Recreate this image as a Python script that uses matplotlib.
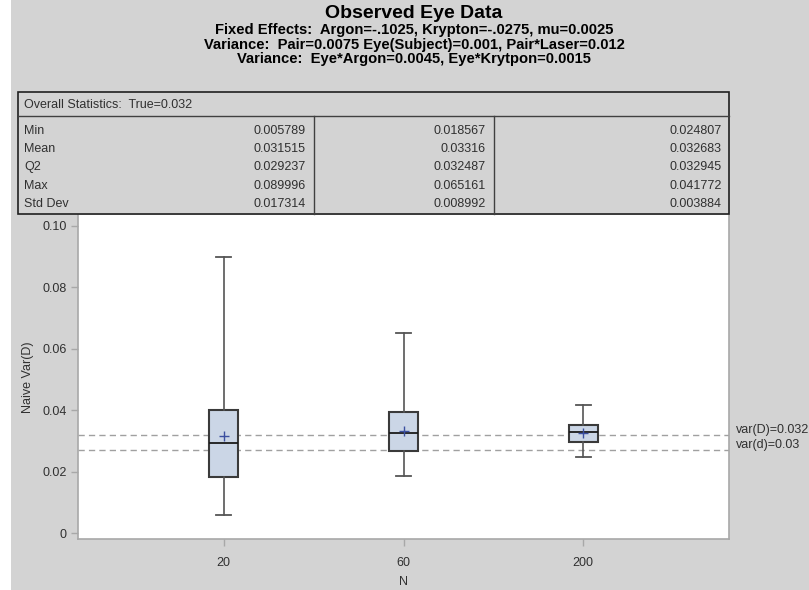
import matplotlib
matplotlib.use("Agg")
import matplotlib.pyplot as plt
from matplotlib.patches import Rectangle
from matplotlib.lines import Line2D
import matplotlib.transforms as mtransforms

plt.rcParams['font.family'] = ['Liberation Sans', 'DejaVu Sans']

# ---- data ----
categories = ['20', '60', '200']
mins = [0.005789, 0.018567, 0.024807]
q1s = [0.0182, 0.0268, 0.0297]
medians = [0.029237, 0.032487, 0.032945]
q3s = [0.0400, 0.0393, 0.0352]
maxs = [0.089996, 0.065161, 0.041772]
means = [0.031515, 0.03316, 0.032683]
stds = [0.017314, 0.008992, 0.003884]
table_q2 = [0.029237, 0.032487, 0.032945]
ref_values = [0.032, 0.027]
ref_labels = ['var(D)=0.032', 'var(d)=0.03']
ytick_vals = [0, 0.02, 0.04, 0.06, 0.08, 0.10]
ytick_labels = ['0', '0.02', '0.04', '0.06', '0.08', '0.10']
title_lines = ['Observed Eye Data',
               'Fixed Effects:  Argon=-.1025, Krypton=-.0275, mu=0.0025',
               'Variance:  Pair=0.0075 Eye(Subject)=0.001, Pair*Laser=0.012',
               'Variance:  Eye*Argon=0.0045, Eye*Krytpon=0.0015']
table_header = 'Overall Statistics:  True=0.032'
row_names = ['Min', 'Mean', 'Q2', 'Max', 'Std Dev']

W, H = 809, 590
DPI = 100
fig = plt.figure(figsize=(W / DPI, H / DPI), dpi=DPI, facecolor='white')

def fx(x):
    return x / W

def fy(y):
    return 1 - y / H

BG = '#d3d3d3'
TXT = '#303030'
FS = 9.0
# gray panel
fig.patches.append(Rectangle((fx(11), 0), 1 - fx(11), 1, transform=fig.transFigure,
                             facecolor=BG, edgecolor='none', zorder=-10))

# ---- titles ----
fig.text(fx(414), fy(14), title_lines[0], ha='center', va='center',
         fontsize=14, fontweight='bold', color='black')
for i, t in enumerate(title_lines[1:]):
    fig.text(fx(414), fy(30 + 14.5 * i), t, ha='center', va='center',
             fontsize=10.6, fontweight='bold', color='black')

# ---- axes ----
ax = fig.add_axes([fx(78), fy(539), fx(729 - 78), fy(215) - fy(539)])
ax.set_facecolor('white')
ppu = (533 - 226) / 0.10
ax.set_ylim(-(539 - 533) / ppu, 0.10 + (226 - 215) / ppu)
ax.set_xlim(-146 / 180, 2 + 146 / 180)

stats = []
for i, c in enumerate(categories):
    stats.append(dict(med=medians[i], q1=q1s[i], q3=q3s[i], whislo=mins[i],
                      whishi=maxs[i], mean=means[i], fliers=[], label=c))
ax.bxp(stats, positions=range(len(categories)), widths=0.16, patch_artist=True,
       showmeans=True, showfliers=False,
       boxprops=dict(facecolor='#cbd6e6', edgecolor='#3a3a3a', linewidth=1.5),
       medianprops=dict(color='#1a1a1a', linewidth=1.3),
       whiskerprops=dict(color='#555555', linewidth=1.2),
       capprops=dict(color='#555555', linewidth=1.3),
       capwidths=0.085,
       meanprops=dict(marker='+', markeredgecolor='#3b4fa0', markersize=7,
                      markeredgewidth=1.0))

for v in ref_values:
    ax.axhline(v, color='#a0a0a0', linestyle=(0, (4.5, 3)), linewidth=1.0, zorder=1)

off = mtransforms.offset_copy(ax.get_yaxis_transform(), fig=fig, x=7, y=5, units='dots')
for v, lab in zip(ref_values, ref_labels):
    ax.text(1.0, v, lab, transform=off, ha='left', va='center', fontsize=FS,
            color=TXT, clip_on=False)

ax.set_yticks(ytick_vals)
ax.set_yticklabels(ytick_labels)
ax.set_xticks(range(len(categories)))
ax.set_xticklabels(categories)
ax.tick_params(axis='both', colors='#a8a8a8', labelcolor=TXT, labelsize=FS,
               length=5, width=1.0, direction='out')
ax.tick_params(axis='y', pad=3)
ax.tick_params(axis='x', pad=8)
for side in ['left', 'bottom', 'right']:
    ax.spines[side].set_color('#a8a8a8')
    ax.spines[side].set_linewidth(1.2)
ax.spines['top'].set_visible(False)

ax.set_ylabel('Naive Var(D)', fontsize=FS, color=TXT, labelpad=6)
ax.set_xlabel('N', fontsize=FS, color=TXT, labelpad=5)

# ---- table ----
tl, tr, tt, thb, tb = 18, 729, 92, 116, 214
fig.patches.append(Rectangle((fx(tl), fy(tb)), fx(tr - tl), fy(tt) - fy(tb),
                             transform=fig.transFigure, facecolor=BG,
                             edgecolor='#202020', linewidth=1.2, zorder=3))
fig.lines.append(Line2D([fx(tl), fx(tr)], [fy(thb), fy(thb)], transform=fig.transFigure,
                        color='#404040', linewidth=1.0, zorder=4))
for cx in [313.5, 494]:
    fig.lines.append(Line2D([fx(cx), fx(cx)], [fy(thb), fy(tb)], transform=fig.transFigure,
                            color='#404040', linewidth=1.0, zorder=4))
fig.text(fx(24), fy(104.5), table_header, ha='left', va='center', fontsize=FS,
         color=TXT, zorder=5)

def fmt(v):
    return f"{v:.6f}".rstrip('0')

rows = [mins, means, table_q2, maxs, stds]
col_right = [306, 486, 722]
for r, (name, vals) in enumerate(zip(row_names, rows)):
    yy = 131 + 18.2 * r
    fig.text(fx(24), fy(yy), name, ha='left', va='center', fontsize=FS, color=TXT, zorder=5)
    for c, v in enumerate(vals):
        fig.text(fx(col_right[c]), fy(yy), fmt(v), ha='right', va='center',
                 fontsize=FS, color=TXT, zorder=5)

fig.savefig('out.png', dpi=DPI, facecolor=fig.get_facecolor())
